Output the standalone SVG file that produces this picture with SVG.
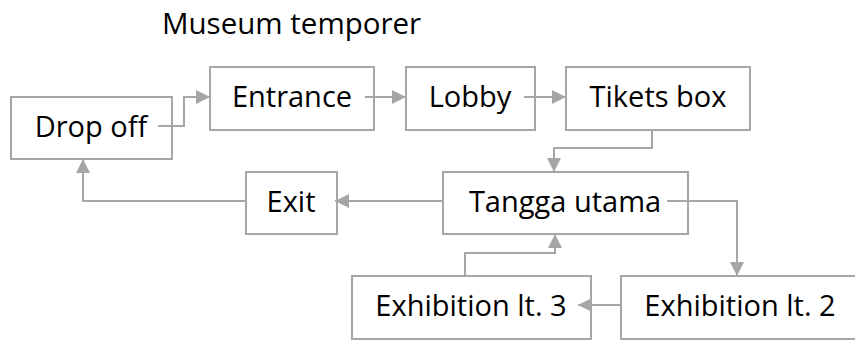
<svg xmlns="http://www.w3.org/2000/svg" width="855" height="341" viewBox="0 0 855 341">
<style>
.box{fill:#ffffff;stroke:#a6a6a6;stroke-width:2}
.lbl{font-family:"Open Sans","Noto Sans",sans-serif;font-size:29px;fill:#000000;text-anchor:middle}
.title{font-family:"Open Sans","Noto Sans",sans-serif;font-size:29.5px;fill:#000000}
.con{fill:none;stroke:#a6a6a6;stroke-width:2;marker-end:url(#arr)}
</style>
<defs>
<marker id="arr" viewBox="0 0 10 10" refX="10" refY="5" markerWidth="14" markerHeight="14" markerUnits="userSpaceOnUse" orient="auto">
<path d="M0,0 L10,5 L0,10 z" fill="#a6a6a6"/>
</marker>
</defs>
<rect width="855" height="341" fill="#ffffff"/>
<text class="title" x="162" y="34">Museum temporer</text>
<g id="dropoff"><rect class="box" x="11" y="97" width="161" height="62"/><text class="lbl" x="91" y="137">Drop off</text></g>
<g id="entrance"><rect class="box" x="210" y="67" width="164" height="63"/><text class="lbl" x="292" y="107">Entrance</text></g>
<g id="lobby"><rect class="box" x="406" y="67" width="129" height="63"/><text class="lbl" x="470" y="107">Lobby</text></g>
<g id="tikets"><rect class="box" x="566" y="67" width="184" height="63"/><text class="lbl" x="658" y="107">Tikets box</text></g>
<g id="tangga"><rect class="box" x="443" y="172" width="245" height="62"/><text class="lbl" x="565" y="212">Tangga utama</text></g>
<g id="exit"><rect class="box" x="246" y="172" width="91" height="62"/><text class="lbl" x="291" y="212">Exit</text></g>
<g id="exh3"><rect class="box" x="352" y="276" width="239" height="63"/><text class="lbl" x="471" y="316">Exhibition lt. 3</text></g>
<g id="exh2"><rect class="box" x="621" y="276" width="260" height="63"/><text class="lbl" x="740" y="316">Exhibition lt. 2</text></g>
<g id="connectors">
<path class="con" d="M158,126 H184 V97 H210"/>
<path class="con" d="M365,97 H406"/>
<path class="con" d="M524,97 H566"/>
<path class="con" d="M652,130 V148 H554 V172"/>
<path class="con" d="M443,201 H335"/>
<path class="con" d="M246,201 H83 V159"/>
<path class="con" d="M667,201 H737 V276"/>
<path class="con" d="M621,305 H578"/>
<path class="con" d="M465,276 V253 H555 V234"/>
</g>
</svg>
